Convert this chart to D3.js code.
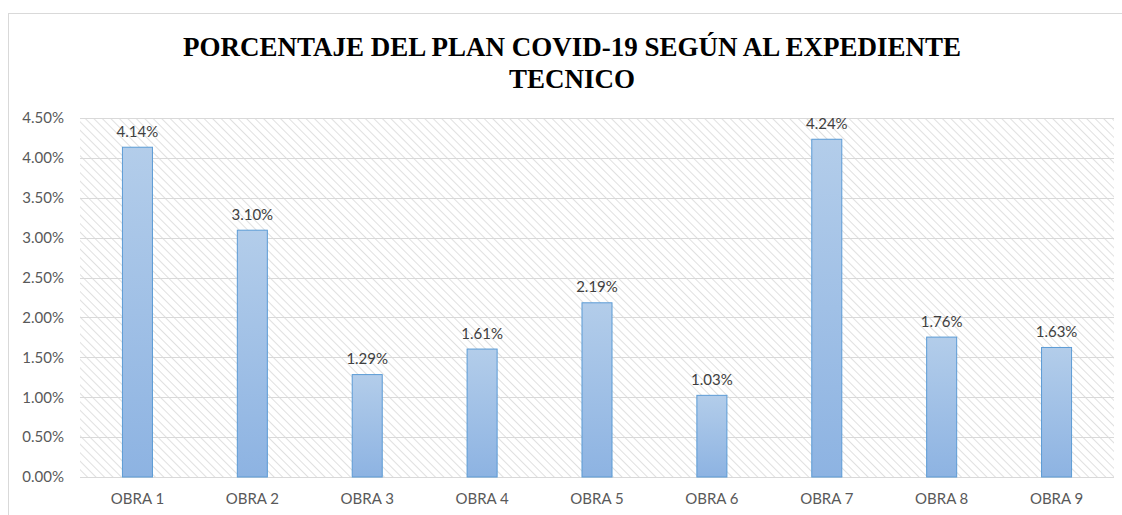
<!DOCTYPE html>
<html>
<head>
<meta charset="utf-8">
<script src="https://cdn.jsdelivr.net/npm/d3@7"></script>
<style>
  body { margin: 0; background: #fff; }
  svg { display: block; }
</style>
</head>
<body>
<svg width="1122" height="515"></svg>
<script>
const obras = ['OBRA 1', 'OBRA 2', 'OBRA 3', 'OBRA 4', 'OBRA 5', 'OBRA 6', 'OBRA 7', 'OBRA 8', 'OBRA 9']
const porcentajes = [4.14, 3.10, 1.29, 1.61, 2.19, 1.03, 4.24, 1.76, 1.63]
const yTicks = [0, 0.5, 1, 1.5, 2, 2.5, 3, 3.5, 4, 4.5]
const titleLines = ['PORCENTAJE DEL PLAN COVID-19 SEGÚN AL EXPEDIENTE', 'TECNICO']

const svg = d3.select('svg')
const width = +svg.attr('width')
const height = +svg.attr('height')
const margin = { top: 118, right: 8, bottom: 38, left: 80 }
const font = 'Lato, "Open Sans", sans-serif'

// chart frame
svg.append('rect')
    .attr('x', 8.5).attr('y', 13.5)
    .attr('width', width - 8).attr('height', height)
    .attr('fill', '#fff')
    .attr('stroke', '#d9d9d9')

const defs = svg.append('defs')
const pat = defs.append('pattern')
    .attr('id', 'hatch')
    .attr('patternUnits', 'userSpaceOnUse')
    .attr('width', 6).attr('height', 6)
    .attr('patternTransform', 'rotate(-45)')
pat.append('line')
    .attr('x1', 0).attr('y1', 0).attr('x2', 0).attr('y2', 6)
    .attr('stroke', '#e0e0e0').attr('stroke-width', 2)

const grad = defs.append('linearGradient')
    .attr('id', 'barGrad')
    .attr('x1', 0).attr('y1', 0).attr('x2', 0).attr('y2', 1)
grad.append('stop').attr('offset', '0%').attr('stop-color', '#b3cdea')
grad.append('stop').attr('offset', '100%').attr('stop-color', '#8db3e2')

const x = d3.scaleBand()
    .domain(obras)
    .range([margin.left, width - margin.right])
    .paddingInner(0.73)
    .paddingOuter(0.365)

const y = d3.scaleLinear()
    .domain([0, 4.5])
    .range([height - margin.bottom, margin.top])

// hatched plot area
svg.append('rect')
    .attr('x', margin.left).attr('y', y(4.5))
    .attr('width', width - margin.right - margin.left)
    .attr('height', y(0) - y(4.5))
    .attr('fill', 'url(#hatch)')

// gridlines
svg.append('g')
    .selectAll('line')
    .data(yTicks)
    .join('line')
    .attr('x1', margin.left).attr('x2', width - margin.right)
    .attr('y1', d => Math.round(y(d)) + 0.5).attr('y2', d => Math.round(y(d)) + 0.5)
    .attr('stroke', '#d9d9d9')
    .attr('stroke-width', 1)

// y axis
const yAxis = d3.axisLeft(y).tickValues(yTicks).tickSize(0).tickPadding(16)
    .tickFormat(d => d.toFixed(2) + '%')
svg.append('g')
    .attr('transform', `translate(${margin.left},0)`)
    .call(yAxis)
    .call(g => g.select('.domain').remove())
    .selectAll('text')
    .attr('fill', '#595959')
    .style('font-family', font)
    .style('font-size', '15px')

// x axis
const xAxis = d3.axisBottom(x).tickSize(0).tickPadding(16)
svg.append('g')
    .attr('transform', `translate(0,${y(0)})`)
    .call(xAxis)
    .call(g => g.select('.domain').remove())
    .selectAll('text')
    .attr('fill', '#595959')
    .style('font-family', font)
    .style('font-size', '15px')

// bars
svg.append('g')
    .selectAll('rect')
    .data(porcentajes)
    .join('rect')
    .attr('x', (d, i) => x(obras[i]) + 0.5)
    .attr('y', d => y(d) + 0.5)
    .attr('width', x.bandwidth() - 1)
    .attr('height', d => y(0) - y(d) - 0.5)
    .attr('fill', 'url(#barGrad)')
    .attr('stroke', '#5b9bd5')
    .attr('stroke-width', 1)

// data labels
svg.append('g')
    .selectAll('text')
    .data(porcentajes)
    .join('text')
    .attr('x', (d, i) => x(obras[i]) + x.bandwidth() / 2)
    .attr('y', d => y(d) - 10)
    .attr('text-anchor', 'middle')
    .attr('fill', '#404040')
    .style('font-family', font)
    .style('font-size', '15px')
    .text(d => d.toFixed(2) + '%')

// title
svg.append('text')
    .attr('x', 572)
    .attr('y', 56)
    .attr('text-anchor', 'middle')
    .style('font-family', '"Liberation Serif", "Times New Roman", serif')
    .style('font-weight', 'bold')
    .style('font-size', '27px')
    .attr('fill', '#000')
    .selectAll('tspan')
    .data(titleLines)
    .join('tspan')
    .attr('x', 572)
    .attr('dy', (d, i) => i === 0 ? 0 : 32)
    .text(d => d)
</script>
</body>
</html>
